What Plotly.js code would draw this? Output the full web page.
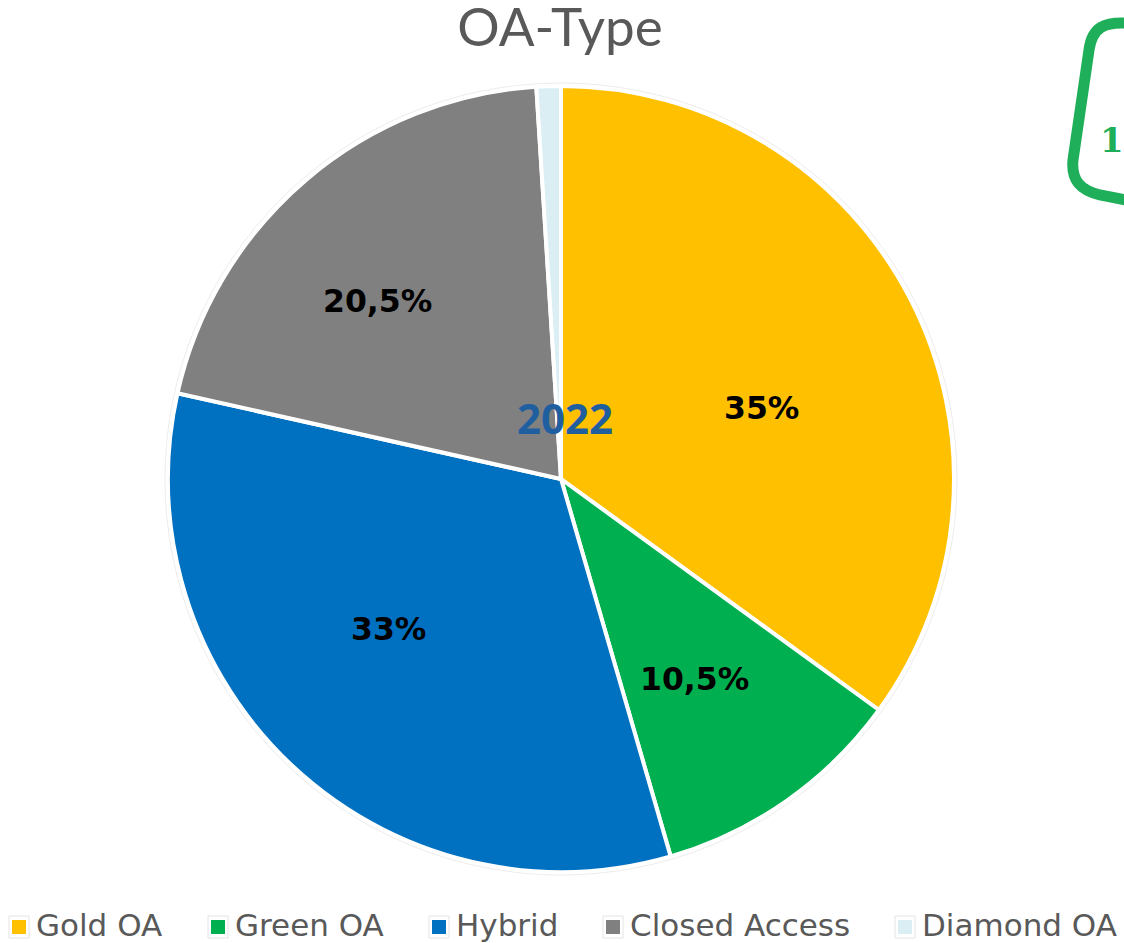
<!DOCTYPE html>
<html><head><meta charset="utf-8">
<script src="https://cdn.plot.ly/plotly-3.0.1.min.js"></script>
<style>html,body{margin:0;padding:0;background:#fff}#c{width:1124px;height:943px}</style>
</head><body><div id="c"></div>
<script>
const categories = ["Gold OA","Green OA","Hybrid","Closed Access","Diamond OA"];
const shareValues = [35,10.5,33,20.5,1];
const sliceColors = ["#FFC000","#00B050","#0070C0","#808080","#DAEEF3"];
const sliceLabels = ["35%","10,5%","33%","20,5%"];
const W=1124,H=943;
const px=x=>x/W, py=y=>1-y/H;
const labelAt=[[761,408],[694,679],[388,629],[377,301]];
const legendKeyX=[19,218,439,613,905];
const ann=sliceLabels.map((t,i)=>({text:t,xref:'paper',yref:'paper',x:px(labelAt[i][0]),y:py(labelAt[i][1]),
  xanchor:'center',yanchor:'middle',showarrow:false,font:{family:'DejaVu Sans',size:31.5,color:'#000',weight:700}}));
ann.push({text:'2022',xref:'paper',yref:'paper',x:px(565),y:py(418),xanchor:'center',yanchor:'middle',showarrow:false,
  font:{family:'Open Sans',size:42,color:'#1F5F9F',weight:700}});
ann.push({text:'1',xref:'paper',yref:'paper',x:px(1112),y:py(140),xanchor:'center',yanchor:'middle',showarrow:false,
  font:{family:'DejaVu Serif',size:34,color:'#1FAF5A',weight:700}});
const keyShapes=[];
categories.forEach((c,i)=>{
  const x=legendKeyX[i], y=927;
  keyShapes.push({type:'rect',xref:'paper',yref:'paper',x0:px(x-10),x1:px(x+10),y0:py(y+11),y1:py(y-11),line:{color:'#E4E4E4',width:1},fillcolor:'#fff',layer:'below'});
  keyShapes.push({type:'rect',xref:'paper',yref:'paper',x0:px(x-7),x1:px(x+7),y0:py(y+7),y1:py(y-7),line:{width:0},fillcolor:sliceColors[i],layer:'above'});
  ann.push({text:c,xref:'paper',yref:'paper',x:px(x+15),xanchor:'left',y:py(925),yanchor:'middle',showarrow:false,
    font:{family:'DejaVu Sans',size:31,color:'#595959'}});
});
Plotly.newPlot('c',[{
  type:'pie',labels:categories,values:shareValues,sort:false,direction:'clockwise',rotation:0,
  marker:{colors:sliceColors,line:{color:'#fff',width:4}},textinfo:'none',hoverinfo:'label+percent',
  domain:{x:[px(168),px(954)],y:[py(872),py(86)]}
}],{
  width:W,height:H,margin:{l:0,r:0,t:0,b:0},paper_bgcolor:'#fff',
  title:{text:'OA-Type',x:px(560),xanchor:'center',y:py(27),yanchor:'middle',font:{family:'Lato',size:53,color:'#595959'}},
  showlegend:false,
  annotations:ann,
  shapes:[
   {type:'circle',xref:'paper',yref:'paper',x0:px(165),x1:px(957),y0:py(875),y1:py(83),line:{color:'#EDEDED',width:1},layer:'below'},
   {type:'path',xref:'paper',yref:'paper',layer:'above',line:{color:'#1FAF5A',width:11},
    path:`M ${px(1126)} ${py(23)} C ${px(1105)} ${py(22)} ${px(1092)} ${py(27)} ${px(1089)} ${py(50)} L ${px(1073)} ${py(160)} C ${px(1071)} ${py(180)} ${px(1080)} ${py(190)} ${px(1100)} ${py(195)} L ${px(1126)} ${py(200)}`}
  ].concat(keyShapes)
},{staticPlot:true,displayModeBar:false});
</script></body></html>
